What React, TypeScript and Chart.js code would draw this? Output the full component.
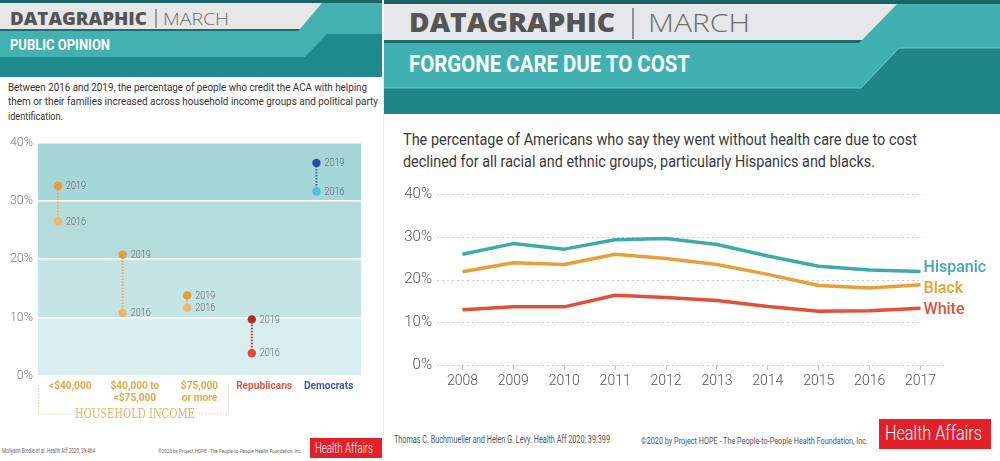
import React, { useEffect, useLayoutEffect, useRef } from 'react';
import { Chart, registerables } from 'chart.js';

Chart.register(...registerables);

// ---------- Left panel data ----------
const groupLabels: string[][] = [['<$40,000'], ['$40,000 to', '<$75,000'], ['$75,000', 'or more'], ['Republicans'], ['Democrats']];
const credit2016 = [26.5, 10.8, 11.7, 3.9, 31.6];
const credit2019 = [32.6, 20.8, 13.8, 9.7, 36.5];
const leftYTicks = [0, 10, 20, 30, 40];
const pointYears = ['2016', '2019'];
const bracketTitle = 'HOUSEHOLD INCOME';

// ---------- Right panel data ----------
const years = ['2008', '2009', '2010', '2011', '2012', '2013', '2014', '2015', '2016', '2017'];
const hispanic = [25.9, 28.4, 27.1, 29.3, 29.6, 28.2, 25.5, 23.1, 22.2, 21.9];
const black = [21.8, 23.9, 23.5, 25.9, 24.9, 23.5, 21.2, 18.6, 18.0, 18.8];
const white = [12.9, 13.6, 13.6, 16.3, 15.8, 15.1, 13.7, 12.6, 12.7, 13.3];
const seriesNames = ['Hispanic', 'Black', 'White'];
const rightYTicks = [0, 10, 20, 30, 40];

// ---------- styles ----------
const col2016 = ['#f1b767', '#f1b767', '#f1b767', '#e2493b', '#55bde2'];
const col2019 = ['#e99f2e', '#e99f2e', '#e99f2e', '#b3292a', '#2b4c9b'];
const connectorCol = ['#efaa45', '#efaa45', '#efaa45', '#c0302c', '#3c64ad'];
const groupLabelCol = ['#e6a84a', '#e6a84a', '#e6a84a', '#e05848', '#3b5aa6'];
const bandCol = ['#d8eeee', '#c4e4e5', '#b4dcdd', '#a6d6d8'];
const DOT_SHIFT = -0.19;
const seriesCol = ['#3eaaa9', '#e5a137', '#e2503c'];
const seriesLabelDy = [-3, 4, 2];

function squeezeText(ctx: CanvasRenderingContext2D, text: string, x: number, y: number, sx: number, align: 'left' | 'center' = 'left') {
  const w = ctx.measureText(text).width * sx;
  ctx.save();
  ctx.translate(align === 'center' ? x - w / 2 : x, y);
  ctx.scale(sx, 1);
  ctx.textAlign = 'left';
  ctx.fillText(text, 0, 0);
  ctx.restore();
}

function fitWidth(ctx: CanvasRenderingContext2D, text: string, x: number, y: number, w: number) {
  const nat = ctx.measureText(text).width;
  ctx.save();
  ctx.translate(x - w / 2, y);
  ctx.scale(w / nat, 1);
  ctx.textAlign = 'left';
  ctx.fillText(text, 0, 0);
  ctx.restore();
}

function Fit(props: { x: number; top: number; w: number; size: number; weight?: number; color?: string; family?: string; text: string }) {
  const ref = useRef<HTMLDivElement>(null);
  useLayoutEffect(() => {
    const el = ref.current;
    if (!el) return;
    const apply = () => {
      el.style.transform = 'none';
      const nat = el.getBoundingClientRect().width;
      if (nat > 0) el.style.transform = `scaleX(${props.w / nat})`;
    };
    apply();
    if ((document as any).fonts && (document as any).fonts.ready) (document as any).fonts.ready.then(apply);
  });
  return (
    <div
      ref={ref}
      style={{
        position: 'absolute',
        left: props.x,
        top: props.top,
        fontSize: props.size,
        fontWeight: props.weight ?? 400,
        color: props.color ?? '#333',
        fontFamily: props.family ?? 'Roboto, sans-serif',
        lineHeight: 1,
        whiteSpace: 'nowrap',
        transformOrigin: '0 0',
      }}
    >
      {props.text}
    </div>
  );
}

function LeftChart() {
  const ref = useRef<HTMLCanvasElement>(null);
  useEffect(() => {
    const canvas = ref.current!;
    const bands = {
      id: 'bands',
      beforeDraw(chart: any) {
        const { ctx, chartArea, scales } = chart;
        const y = scales.y;
        for (let i = 0; i < leftYTicks.length - 1; i++) {
          const y0 = y.getPixelForValue(leftYTicks[i]);
          const y1 = y.getPixelForValue(leftYTicks[i + 1]);
          ctx.fillStyle = bandCol[i];
          ctx.fillRect(chartArea.left, y1, chartArea.right - chartArea.left, y0 - y1);
        }
      },
    };
    const labels = {
      id: 'labels',
      afterDatasetsDraw(chart: any) {
        const { ctx } = chart;
        ctx.save();
        ctx.font = '300 11px Roboto';
        ctx.fillStyle = '#666';
        ctx.textBaseline = 'middle';
        chart.data.datasets.forEach((_: any, i: number) => {
          const meta = chart.getDatasetMeta(i);
          meta.data.forEach((pt: any, j: number) => {
            squeezeText(ctx, pointYears[j], pt.x + 8, pt.y + 0.5, 0.82);
          });
        });
        ctx.restore();
      },
      afterDraw(chart: any) {
        const { ctx, chartArea, scales } = chart;
        const x = scales.x;
        ctx.save();
        ctx.font = '700 11.5px Roboto';
        ctx.textBaseline = 'middle';
        groupLabels.forEach((lines, i) => {
          ctx.fillStyle = groupLabelCol[i];
          lines.forEach((ln, k) => {
            squeezeText(ctx, ln, x.getPixelForValue(i), chartArea.bottom + 10.5 + k * 11.5, 0.88, 'center');
          });
        });
        // household income bracket
        const bx0 = x.getPixelForValue(-0.5) + 0.5;
        const bx1 = x.getPixelForValue(2.45);
        const by0 = chartArea.bottom + 9;
        const by1 = chartArea.bottom + 38;
        const tx = x.getPixelForValue(1);
        const tw = 120;
        ctx.strokeStyle = '#ecc07e';
        ctx.lineWidth = 1;
        ctx.setLineDash([1, 2]);
        ctx.beginPath();
        ctx.moveTo(bx0, by0);
        ctx.lineTo(bx0, by1);
        ctx.lineTo(tx - tw / 2 - 4, by1);
        ctx.moveTo(tx + tw / 2 + 4, by1);
        ctx.lineTo(bx1, by1);
        ctx.lineTo(bx1, by0);
        ctx.stroke();
        ctx.setLineDash([]);
        ctx.fillStyle = '#e7b066';
        ctx.font = '400 12px "DejaVu Serif"';
        ctx.textBaseline = 'middle';
        fitWidth(ctx, bracketTitle, tx, by1 + 1, tw);
        ctx.restore();
      },
    };
    const chart = new Chart(canvas, {
      type: 'line',
      data: {
        datasets: groupLabels.map((_, i) => ({
          data: [
            { x: i + DOT_SHIFT, y: credit2016[i] },
            { x: i + DOT_SHIFT, y: credit2019[i] },
          ],
          borderColor: connectorCol[i],
          borderWidth: 2,
          borderDash: [1.5, 1.5],
          pointRadius: 4.2,
          pointBorderWidth: 0,
          pointBackgroundColor: [col2016[i], col2019[i]],
          pointBorderColor: [col2016[i], col2019[i]],
          showLine: true,
          fill: false,
        })),
      },
      options: {
        animation: false,
        responsive: false,
        maintainAspectRatio: false,
        events: [],
        layout: { padding: { left: 0, right: 22, top: 12, bottom: 64 } },
        plugins: { legend: { display: false }, tooltip: { enabled: false } },
        scales: {
          x: { type: 'linear', min: -0.5, max: 4.5, display: false },
          y: {
            min: 0,
            max: 40,
            afterFit: (s: any) => {
              s.width = 38;
            },
            afterBuildTicks: (s: any) => {
              s.ticks = leftYTicks.map((v) => ({ value: v }));
            },
            ticks: {
              callback: (v: any) => v + '%',
              color: '#7a7a7a',
              font: { family: 'Roboto', size: 12.5, weight: '300' as any },
              padding: 5,
            },
            grid: { color: '#ffffff', lineWidth: 1.6, drawTicks: false },
            border: { display: false },
          },
        },
      },
      plugins: [bands, labels],
    } as any);
    return () => chart.destroy();
  }, []);
  return <canvas ref={ref} width={383} height={310} style={{ position: 'absolute', left: 0, top: 130, width: 383, height: 310 }} />;
}

function RightChart() {
  const ref = useRef<HTMLCanvasElement>(null);
  useEffect(() => {
    const canvas = ref.current!;
    const grid = {
      id: 'grid',
      beforeDatasetsDraw(chart: any) {
        const { ctx, chartArea, scales } = chart;
        const y = scales.y;
        const x = scales.x;
        ctx.save();
        ctx.strokeStyle = '#c9c9c9';
        ctx.lineWidth = 1;
        ctx.setLineDash([2, 3]);
        rightYTicks.forEach((v) => {
          const py = Math.round(y.getPixelForValue(v)) + 0.5;
          const x1 = v === 0 ? chartArea.right : x.getPixelForValue(years.length - 1) + 2;
          ctx.beginPath();
          ctx.moveTo(chartArea.left, py);
          ctx.lineTo(x1, py);
          ctx.stroke();
        });
        ctx.restore();
      },
    };
    const names = {
      id: 'names',
      afterDatasetsDraw(chart: any) {
        const { ctx } = chart;
        ctx.save();
        ctx.font = '500 16px Roboto';
        ctx.textBaseline = 'middle';
        ctx.textAlign = 'left';
        seriesNames.forEach((n, i) => {
          const meta = chart.getDatasetMeta(i);
          const last = meta.data[meta.data.length - 1];
          ctx.fillStyle = seriesCol[i];
          ctx.fillText(n, last.x + 3, last.y + seriesLabelDy[i]);
        });
        ctx.restore();
      },
    };
    const chart = new Chart(canvas, {
      type: 'line',
      data: {
        labels: years,
        datasets: [hispanic, black, white].map((d, i) => ({
          label: seriesNames[i],
          data: d,
          borderColor: seriesCol[i],
          borderWidth: 3.5,
          pointRadius: 0,
          tension: 0,
          fill: false,
          borderJoinStyle: 'round',
        })),
      },
      options: {
        animation: false,
        responsive: false,
        maintainAspectRatio: false,
        events: [],
        layout: { padding: { left: 0, right: 54, top: 19, bottom: 0 } },
        plugins: { legend: { display: false }, tooltip: { enabled: false } },
        scales: {
          x: {
            offset: true,
            grid: { display: true, drawOnChartArea: false, drawTicks: true, tickLength: 5, color: '#c4c4c4' },
            border: { display: false },
            ticks: {
              color: '#555',
              font: { family: 'Roboto', size: 14, weight: '300' as any },
              padding: 3,
              maxRotation: 0,
              autoSkip: false,
            },
            afterFit: (s: any) => {
              s.height = 35;
            },
          },
          y: {
            min: 0,
            max: 40,
            afterBuildTicks: (s: any) => {
              s.ticks = rightYTicks.map((v) => ({ value: v }));
            },
            afterFit: (s: any) => {
              s.width = 54;
            },
            ticks: {
              callback: (v: any) => v + '%',
              color: '#555',
              font: { family: 'Roboto', size: 15, weight: '300' as any },
              padding: 5,
            },
            grid: { display: false, drawTicks: false },
            border: { display: false },
          },
        },
      },
      plugins: [grid, names],
    } as any);
    return () => chart.destroy();
  }, []);
  return <canvas ref={ref} width={617} height={225} style={{ position: 'absolute', left: 383, top: 175, width: 617, height: 225 }} />;
}

function Headers() {
  return (
    <svg width={1000} height={461} style={{ position: 'absolute', left: 0, top: 0 }}>
      {/* left panel header */}
      <rect x={0} y={0} width={382} height={77} fill="#1f8a8c" />
      <polygon points="0,3 382,3 382,34 327,34 305,57 0,57" fill="#43b1b0" />
      <polygon points="0,3 322,3 300,29 0,29" fill="#e7e7e8" />
      <polygon points="0,29 300,29 298.3,31 0,31" fill="#1f6a6d" />
      <rect x={0} y={0} width={382} height={3} fill="#1b6468" />
      {/* right panel header */}
      <rect x={384} y={0} width={616} height={114} fill="#1f8688" />
      <polygon points="384,4 1000,4 1000,48 899,48 861,88 384,88" fill="#41b0b0" />
      <polyline points="384,88 861,88 899,48 1000,48" fill="none" stroke="#6cc5c4" strokeWidth={1} />
      <polygon points="384,4 897,4 862,40 384,40" fill="#e6e7e8" />
      <polygon points="384,40 862,40 859,43 384,43" fill="#1f6b6e" />
      <rect x={384} y={0} width={616} height={4} fill="#1a6266" />
      {/* separators */}
      <line x1={156} y1={9} x2={156} y2={28} stroke="#555" strokeWidth={1} />
      <line x1={633} y1={8} x2={633} y2={39} stroke="#555" strokeWidth={1.2} />
      <line x1={383.5} y1={77} x2={383.5} y2={461} stroke="#ececec" strokeWidth={1} />
      {/* logos */}
      <rect x={310} y={438} width={72} height={20} fill="#e3202a" />
      <rect x={879} y={419} width={112} height={30} fill="#e3202a" />
    </svg>
  );
}

export default function App() {
  useEffect(() => {
    document.body.style.margin = '0';
  }, []);
  const OS = '"Open Sans", sans-serif';
  const ls = 11;
  return (
    <div style={{ position: 'absolute', left: 0, top: 0, width: 1000, height: 461, overflow: 'hidden', background: '#fff', fontFamily: 'Roboto, sans-serif' }}>
      <Headers />
      {/* left header texts */}
      <Fit x={10} top={10} w={137} size={17} weight={800} color="#555" family={OS} text="DATAGRAPHIC" />
      <Fit x={163} top={10} w={66} size={17} weight={300} color="#6d6d6d" family={OS} text="MARCH" />
      <Fit x={10} top={38} w={100} size={15} weight={700} color="#fff" text="PUBLIC OPINION" />
      {/* right header texts */}
      <Fit x={409} top={8.5} w={206} size={26} weight={800} color="#555" family={OS} text="DATAGRAPHIC" />
      <Fit x={648} top={8.5} w={102} size={26} weight={300} color="#6d6d6d" family={OS} text="MARCH" />
      <Fit x={409} top={52} w={281} size={24} weight={700} color="#fff" text="FORGONE CARE DUE TO COST" />
      {/* left subtitle */}
      <Fit x={8} top={91 - 0.842 * ls} w={359} size={ls} color="#333" text="Between 2016 and 2019, the percentage of people who credit the ACA with helping" />
      <Fit x={8} top={105.5 - 0.842 * ls} w={370} size={ls} color="#333" text="them or their families increased across household income groups and political party" />
      <Fit x={8} top={120 - 0.842 * ls} w={55} size={ls} color="#333" text="identification." />
      {/* right subtitle */}
      <Fit x={403} top={145 - 0.842 * 17} w={514} size={17} color="#3a3a3a" text="The percentage of Americans who say they went without health care due to cost" />
      <Fit x={403} top={167 - 0.842 * 17} w={472} size={17} color="#3a3a3a" text="declined for all racial and ethnic groups, particularly Hispanics and blacks." />
      <LeftChart />
      <RightChart />
      {/* footers */}
      <Fit x={2} top={448} w={93} size={6.5} color="#666" text="Mollyann Brodie et al. Health Aff 2020; 39:464" />
      <Fit x={158} top={448} w={144} size={6} color="#666" text="©2020 by Project HOPE - The People-to-People Health Foundation, Inc." />
      <Fit x={315} top={441} w={58} size={14} weight={300} color="#fff" text="Health Affairs" />
      <Fit x={394} top={435} w={216} size={10} color="#555" text="Thomas C. Buchmueller and Helen G. Levy. Health Aff 2020; 39:399" />
      <Fit x={641} top={435.5} w={227} size={9.5} color="#555" text="©2020 by Project HOPE - The People-to-People Health Foundation, Inc." />
      <Fit x={885} top={423} w={97} size={21} weight={300} color="#fff" text="Health Affairs" />
    </div>
  );
}
